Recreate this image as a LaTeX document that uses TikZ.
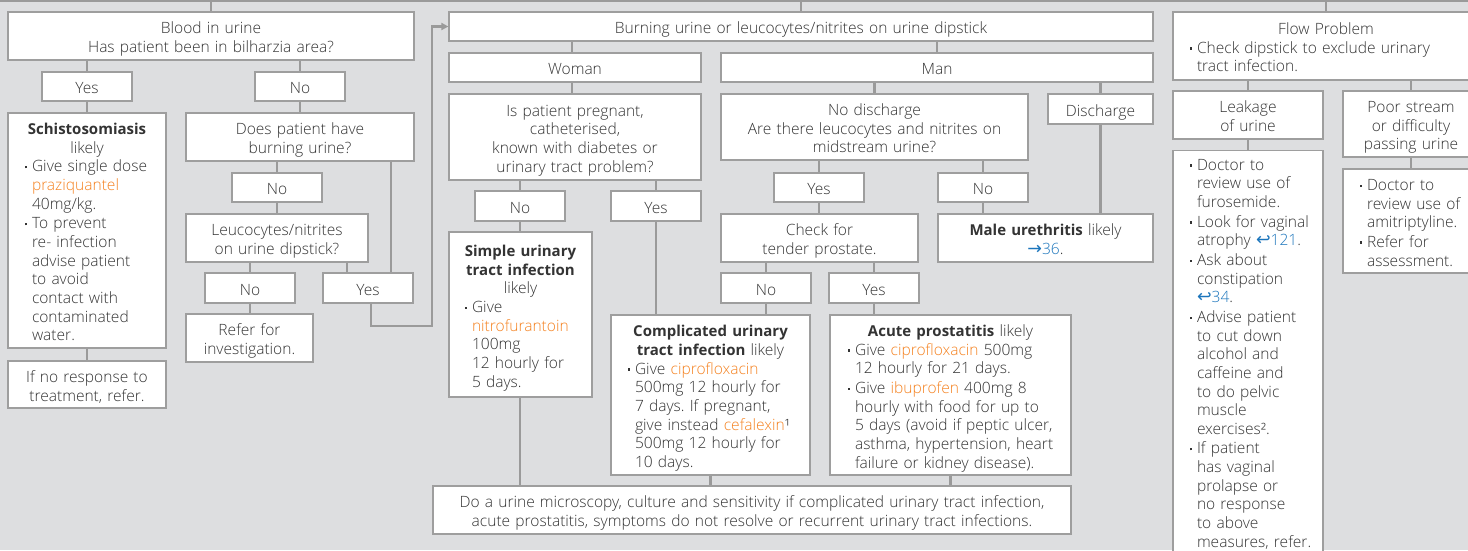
\documentclass[tikz,border=0pt]{standalone}
\usepackage{fontspec}
\setmainfont{Open Sans}[UprightFont={* Light}, BoldFont={* Bold}, BoldFeatures={Scale=0.965}]
\newfontfamily\djv{DejaVu Sans}
\usetikzlibrary{arrows.meta}
\definecolor{bgC}{HTML}{DDDEE0}
\definecolor{boxC}{HTML}{9E9E9E}
\definecolor{lineC}{HTML}{9A9A9A}
\definecolor{txtC}{HTML}{333333}
\definecolor{drugC}{HTML}{F58220}
\definecolor{linkC}{HTML}{1B75BC}
\setlength{\parindent}{0pt}
\setlength{\lineskip}{0pt}
\setlength{\lineskiplimit}{0pt}
\frenchspacing
\newcommand\fsz{\fontsize{15.55}{18.65}\selectfont}
\newcommand\drug[1]{\textcolor{drugC}{#1}}
\newcommand\lnk[1]{\textcolor{linkC}{#1}}
\newcommand\bulsym{\rule[3.6pt]{2.3pt}{2.3pt}}
\newcommand\bitem[1]{\makebox[7pt][l]{\bulsym}\begin{tabular}[t]{@{}l@{}}#1\end{tabular}}
\newcommand\hd[1]{\makebox[\hsize][c]{#1}}
\newcommand\ltopstrut{\rule[0pt]{0pt}{20.05pt}}
\newcommand\symfont{\djv\fontsize{17.5}{18.65}\selectfont}
\tikzset{
  box/.style={draw=boxC, fill=white, line width=1.2pt, inner sep=0pt, align=center,
    text=txtC, font=\fsz, execute at begin node=\ltopstrut, execute at end node=\strut},
  bx/.code 2 args={\pgfmathsetmacro\bxw{#1}\pgfmathsetmacro\bxtw{#1-4}%
    \pgfkeysalso{minimum width=\bxw pt, minimum height=#2, text width=\bxtw pt}},
  lbox/.style={box, align=left},
  conn/.style={draw=lineC, line width=2.6pt},
}
\begin{document}
\begin{tikzpicture}[x=1pt,y=-1pt]
\useasboundingbox (0,0) rectangle (1468,550);
\clip (0,0) rectangle (1468,550);
\fill[bgC] (0,0) rectangle (1468,550);
\coordinate (topbar) at (0,1);
\draw[conn] (topbar) -- (1468,1);

% ---------- left column ----------
\node[box, bx={406}{48}] (b1) at (211,36) {Blood in urine\\Has patient been in bilharzia area?};
\node[box, bx={90}{29}] (yes1) at (87,86.5) {Yes};
\node[box, bx={90}{29}] (no1) at (300,86.5) {No};
\node[lbox, minimum width=158, minimum height=235, text width=124, inner xsep=17] (schisto) at (87,230.5)
 {\hd{\textbf{Schistosomiasis}}\\\hd{likely}\\
  \bitem{Give single dose\\\drug{praziquantel}\\40mg/kg.}\\
  \bitem{To prevent\\re- infection\\advise patient\\to avoid\\contact with\\contaminated\\water.}};
\node[box, bx={158}{47}] (ifno) at (87,384.5) {If no response to\\treatment, refer.};
\node[box, bx={228}{48}] (burn1) at (300,137) {Does patient have\\burning urine?};
\node[box, bx={90}{29}] (no2) at (277,187.5) {No};
\node[box, bx={182}{48}] (leuco) at (277,238) {Leucocytes/nitrites\\on urine dipstick?};
\node[box, bx={90}{30}] (no3) at (250,288) {No};
\node[box, bx={90}{30}] (yes3) at (368,288) {Yes};
\node[box, bx={127}{48}] (refer) at (249.5,338) {Refer for\\investigation.};

% ---------- middle ----------
\node[box, bx={704}{29}] (burnM) at (801,26.5) {Burning urine or leucocytes/nitrites on urine dipstick};
\node[box, bx={252}{29}] (woman) at (575,67.5) {Woman};
\node[box, bx={432}{29}] (man) at (937,67.5) {Man};
\node[box, bx={252}{86}] (preg) at (575,137) {Is patient pregnant,\\catheterised,\\known with diabetes or\\urinary tract problem?};
\node[box, bx={90}{30}] (noW) at (520,206) {No};
\node[box, bx={90}{30}] (yesW) at (656,206) {Yes};
\node[lbox, minimum width=143, minimum height=165, text width=111, inner xsep=16] (simple) at (520.5,314.5)
 {\hd{\textbf{Simple urinary}}\\\hd{\textbf{tract infection}}\\\hd{likely}\\
  \bitem{Give\\\drug{nitrofurantoin}\\100mg\\12 hourly for\\5 days.}};
\node[lbox, minimum width=199, minimum height=160, text width=165, inner xsep=17] (compl) at (710.5,395)
 {\hd{\textbf{Complicated urinary}}\\\hd{\textbf{tract infection} likely}\\
  \bitem{Give \drug{ciprofloxacin}\\500mg 12 hourly for\\7 days. If pregnant,\\give instead \drug{cefalexin}¹\\500mg 12 hourly for\\10 days.}};
\node[box, bx={307}{66}] (nodisQ) at (874.5,127) {No discharge\\Are there leucocytes and nitrites on\\midstream urine?};
\node[box, bx={105}{30}] (disch) at (1100.5,109) {Discharge};
\node[box, bx={90}{29}] (yesM) at (819,187.5) {Yes};
\node[box, bx={90}{29}] (noM) at (983,187.5) {No};
\node[box, bx={197}{48}] (check) at (819.5,238) {Check for\\tender prostate.};
\node[box, bx={90}{30}] (noP) at (766,288) {No};
\node[box, bx={90}{30}] (yesP) at (874,288) {Yes};
\node[lbox, minimum width=241, minimum height=160, text width=205, inner xsep=18] (acute) at (950.5,395)
 {\hd{\textbf{Acute prostatitis} likely}\\
  \bitem{Give \drug{ciprofloxacin} 500mg\\12 hourly for 21 days.}\\
  \bitem{Give \drug{ibuprofen} 400mg 8\\hourly with food for up to\\5 days (avoid if peptic ulcer,\\asthma, hypertension, heart\\failure or kidney disease).}};
\node[box, bx={215}{48}] (male) at (1045.5,238) {\textbf{Male urethritis} likely\\\lnk{{\symfont →}36}.};
\node[box, bx={638}{48}] (bottom) at (752,510) {Do a urine microscopy, culture and sensitivity if complicated urinary tract infection,\\acute prostatitis, symptoms do not resolve or recurrent urinary tract infections.};

% ---------- right ----------
\node[lbox, minimum width=306, minimum height=68, text width=272, inner xsep=17] (flow) at (1326,46)
 {\hd{Flow Problem}\\\bitem{Check dipstick to exclude urinary\\tract infection.}};
\node[box, bx={150}{48}] (leak) at (1248,115) {Leakage\\of urine};
\node[box, bx={136}{66}] (poor) at (1411,124) {Poor stream\\or difficulty\\passing urine};
\node[lbox, minimum width=150, minimum height=401, text width=116, inner xsep=17] (leakL) at (1248,351.5)
 {\bitem{Doctor to\\review use of\\furosemide.}\\
  \bitem{Look for vaginal\\atrophy \lnk{{\symfont ↩}121}.}\\
  \bitem{Ask about\\constipation\\\lnk{{\symfont ↩}34}.}\\
  \bitem{Advise patient\\to cut down\\alcohol and\\caffeine and\\to do pelvic\\muscle\\exercises².}\\
  \bitem{If patient\\has vaginal\\prolapse or\\no response\\to above\\measures, refer.}};
\node[lbox, minimum width=136, minimum height=104, text width=102, inner xsep=17] (poorL) at (1411,221)
 {\bitem{Doctor to\\review use of\\amitriptyline.}\\\bitem{Refer for\\assessment.}};

% ---------- connectors ----------
\draw[conn] (b1.north) -- (b1.north |- topbar);
\draw[conn] (burnM.north) -- (burnM.north |- topbar);
\draw[conn] (flow.north) -- (flow.north |- topbar);

\draw[conn] (b1.south -| yes1) -- (yes1.north);
\draw[conn] (b1.south -| no1) -- (no1.north);
\draw[conn] (yes1.south) -- (schisto.north);
\draw[conn] (no1.south) -- (burn1.north);
\draw[conn] (schisto.south) -- (ifno.north);
\draw[conn] (burn1.south -| no2) -- (no2.north);
\draw[conn] (no2.south) -- (leuco.north);
\draw[conn] (leuco.south -| no3) -- (no3.north);
\draw[conn] (leuco.south -| 347,0) -- (yes3.north -| 347,0);
\draw[conn] (no3.south) -- (no3.south |- refer.north);
\draw[conn] (burn1.south -| 391,0) -- (yes3.north -| 391,0);
\draw[conn, -{Triangle[length=7pt,width=7pt]}] (yes3.south -| 371,0) |- (432,326) |- (burnM.west);

\draw[conn] (burnM.south -| 572,0) -- (woman.north -| 572,0);
\draw[conn] (burnM.south -| man) -- (man.north);
\draw[conn] (woman.south -| 572,0) -- (preg.north -| 572,0);
\draw[conn] (man.south -| nodisQ) -- (nodisQ.north);
\draw[conn] (man.south -| disch) -- (disch.north);
\draw[conn] (preg.south -| noW) -- (noW.north);
\draw[conn] (preg.south -| yesW) -- (yesW.north);
\draw[conn] (noW.south) -- (noW.south |- simple.north);
\draw[conn] (yesW.south) -- (yesW.south |- compl.north);
\draw[conn] (nodisQ.south -| yesM) -- (yesM.north);
\draw[conn] (nodisQ.south -| noM) -- (noM.north);
\draw[conn] (yesM.south) -- (yesM.south |- check.north);
\draw[conn] (noM.south) -- (noM.south |- male.north);
\draw[conn] (disch.south) -- (disch.south |- male.north);
\draw[conn] (check.south -| noP) -- (noP.north);
\draw[conn] (check.south -| yesP) -- (yesP.north);
\draw[conn] (noP.south) -- (noP.south |- compl.north);
\draw[conn] (yesP.south) -- (yesP.south |- acute.north);
\draw[conn] (simple.south -| noW) -- (bottom.north -| noW);
\draw[conn] (compl.south) -- (compl.south |- bottom.north);
\draw[conn] (acute.south) -- (acute.south |- bottom.north);

\draw[conn] (flow.south -| leak) -- (leak.north);
\draw[conn] (flow.south -| poor) -- (poor.north);
\draw[conn] (leak.south) -- (leakL.north);
\draw[conn] (poor.south) -- (poorL.north);
\end{tikzpicture}
\end{document}
